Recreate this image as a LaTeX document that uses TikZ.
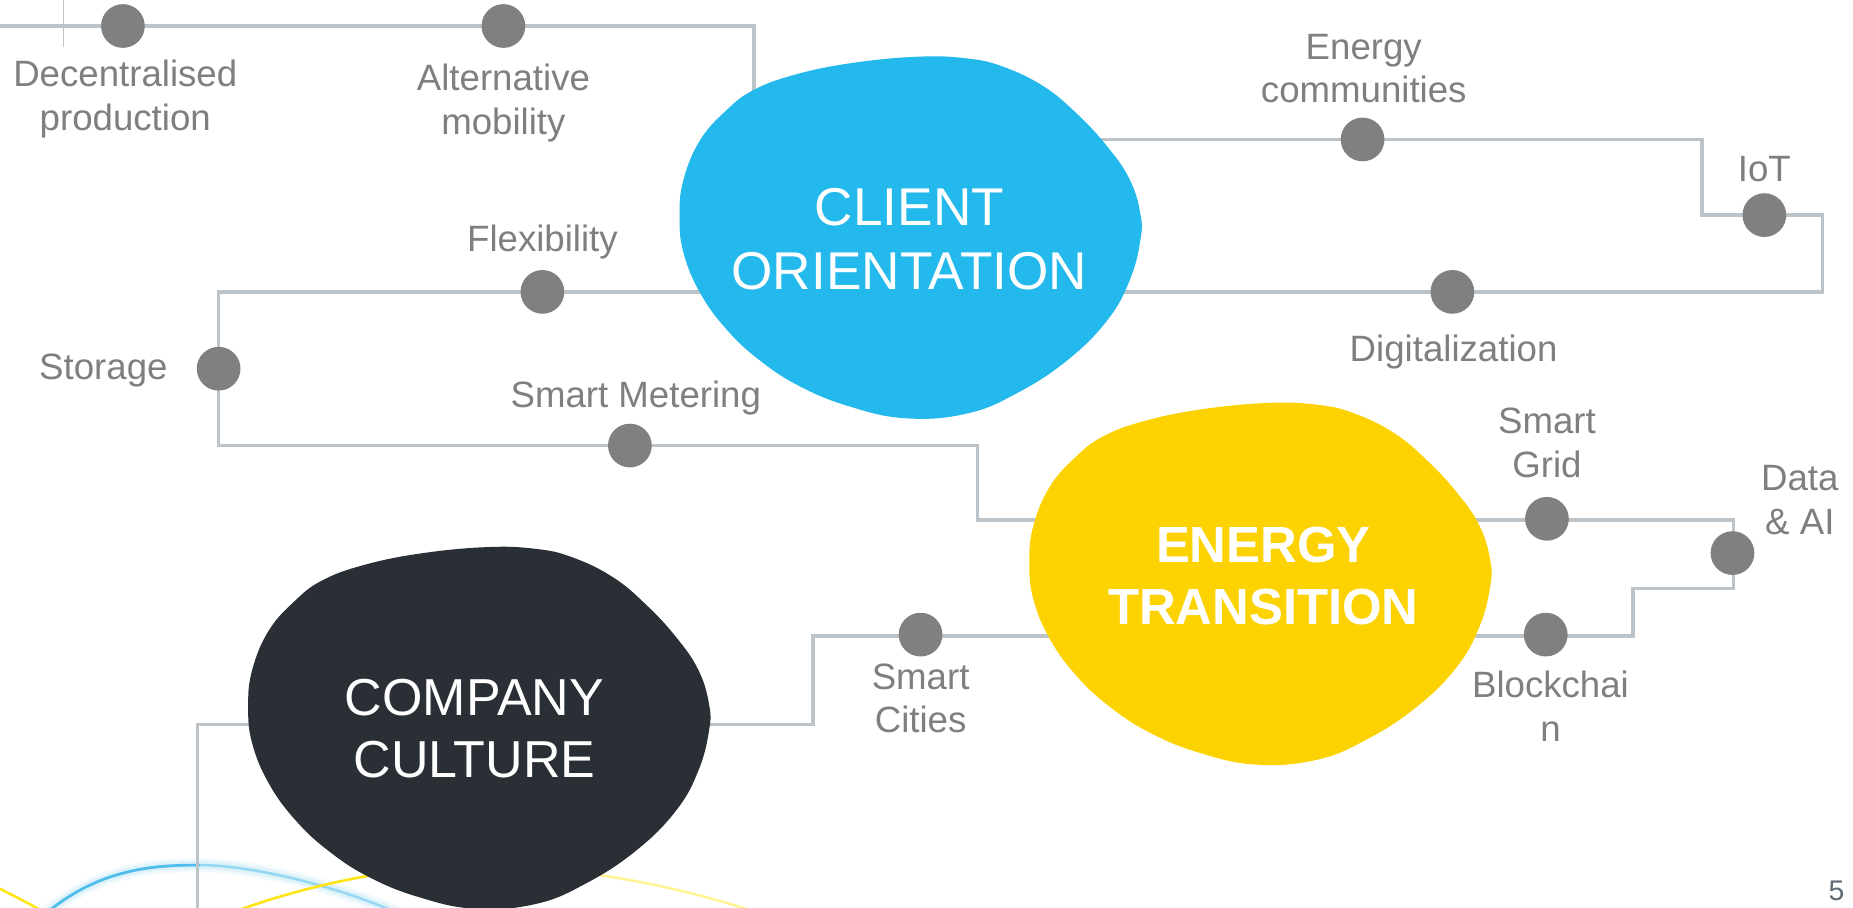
\documentclass[tikz,border=0pt]{standalone}
\usepackage{fontspec}
\setmainfont{Liberation Sans}
\definecolor{blobblue}{HTML}{23B9EC}
\definecolor{blobyellow}{HTML}{FCD200}
\definecolor{blobdark}{HTML}{292F35}
\definecolor{connC}{HTML}{BCC4CA}
\definecolor{dotC}{HTML}{808080}
\definecolor{labelC}{HTML}{7F7F7F}
\definecolor{pageC}{HTML}{5F6A72}
\definecolor{waveblue}{HTML}{4FBDEB}
\definecolor{waveyellow}{HTML}{FFE516}
\begin{document}
\begin{tikzpicture}[x=1pt,y=-1pt,
  conn/.style={draw=connC,line width=3pt},
  dotnode/.style={circle,fill=dotC,minimum size=37pt,inner sep=0pt},
  lbl/.style={text=labelC,align=center,inner sep=0pt,font=\fontsize{31}{37}\selectfont},
  blobtext/.style={text=white,align=center,inner sep=0pt,font=\fontsize{45}{54}\selectfont},
  blobshape/.pic={\path[pic actions] plot[smooth cycle,tension=0.7] coordinates {
    (201,0) (144,5.6) (96.5,15.5) (62.6,28.2) (40,45) (17.5,70.5) (3.4,104) (0,135)
    (3.4,166) (17.5,200) (40,231) (68,257) (102,279) (144,296) (192,306) (243,302)
    (285,285) (328,257) (362,223) (381,189) (390,155) (390,133) (381,104) (362,76)
    (336,48) (308,25) (274,8.5) (243,1.4)};}
]
\useasboundingbox (0,0) rectangle (1568,768);
\fill[white] (0,0) rectangle (1568,768);

% decorative waves
\coordinate (w0) at (40,772);
\coordinate (w1) at (169,732);
\coordinate (w2) at (335,772);
\draw[waveblue,line width=12pt,opacity=0.07,line cap=round] (w0) .. controls (85,735) and (130,732) .. (w1) .. controls (210,732) and (280,748) .. (w2);
\draw[waveblue,line width=7pt,opacity=0.12,line cap=round] (w0) .. controls (85,735) and (130,732) .. (w1) .. controls (210,732) and (280,748) .. (w2);
\draw[waveblue,line width=2.2pt,opacity=0.5] (w0) .. controls (85,735) and (130,732) .. (w1) .. controls (210,732) and (280,748) .. (w2);
\draw[waveblue,line width=2.2pt] (w0) .. controls (85,735) and (130,732) .. (w1);
\coordinate (y0) at (0,752);
\coordinate (y1) at (37,772);
\draw[waveyellow,line width=2.2pt] (y0) .. controls (15,760) and (28,766) .. (y1);
\coordinate (y2) at (197,772);
\coordinate (y3) at (400,732);
\coordinate (y4) at (640,772);
\draw[waveyellow,line width=2.2pt] (y2) .. controls (250,752) and (330,733) .. (y3);
\draw[waveyellow,line width=2.2pt,opacity=0.45] (y3) .. controls (470,732) and (560,745) .. (y4);

% thin mark top-left
\coordinate (m0) at (54,0);
\coordinate (m1) at (54,40);
\draw[connC,line width=0.8pt] (m0) -- (m1);

% connector corners
\coordinate (a0) at (0,22);
\coordinate (a1) at (638,22);
\coordinate (a2) at (638,110);
\coordinate (b0) at (900,118);
\coordinate (b1) at (1440,118);
\coordinate (b2) at (1440,182);
\coordinate (b3) at (1542,182);
\coordinate (b4) at (1542,247);
\coordinate (b5) at (900,247);
\coordinate (c0) at (700,247);
\coordinate (c1) at (185,247);
\coordinate (c2) at (185,377);
\coordinate (c3) at (827,377);
\coordinate (c4) at (827,440);
\coordinate (c5) at (960,440);
\coordinate (d0) at (1200,440);
\coordinate (d1) at (1467,440);
\coordinate (d2) at (1467,498);
\coordinate (d3) at (1382,498);
\coordinate (d4) at (1382,538);
\coordinate (d5) at (1200,538);
\coordinate (e0) at (1000,538);
\coordinate (e1) at (688,538);
\coordinate (e2) at (688,613);
\coordinate (e3) at (500,613);
\coordinate (f0) at (300,613);
\coordinate (f1) at (167,613);
\coordinate (f2) at (167,772);

\draw[conn] (a0) -- (a1) -- (a2);
\draw[conn] (b0) -- (b1) -- (b2) -- (b3) -- (b4) -- (b5);
\draw[conn] (c0) -- (c1) -- (c2) -- (c3) -- (c4) -- (c5);
\draw[conn] (d0) -- (d1) -- (d2) -- (d3) -- (d4) -- (d5);
\draw[conn] (e0) -- (e1) -- (e2) -- (e3);
\draw[conn] (f0) -- (f1) -- (f2);

% dots
\node[dotnode] (ddec) at (104,22) {};
\node[dotnode] (dalt) at (426,22) {};
\node[dotnode] (decom) at (1153,118) {};
\node[dotnode] (diot) at (1493,182) {};
\node[dotnode] (ddig) at (1229,247) {};
\node[dotnode] (dflex) at (459,247) {};
\node[dotnode] (dstor) at (185,312) {};
\node[dotnode] (dsmet) at (533,377) {};
\node[dotnode] (dgrid) at (1309,439) {};
\node[dotnode] (ddata) at (1466,468) {};
\node[dotnode] (dblock) at (1308,537) {};
\node[dotnode] (dcity) at (779,537) {};

% blobs
\pic[fill=blobblue] at (575,48) {blobshape};
\pic[fill=blobyellow] at (871,341) {blobshape};
\pic[fill=blobdark] at (210,463) {blobshape};

\node[blobtext] (client) at (769.5,202.5) {CLIENT\\ORIENTATION};
\node[blobtext,font=\fontsize{43}{53}\bfseries\selectfont] (energy) at (1069,487.5) {ENERGY\\TRANSITION};
\node[blobtext,font=\fontsize{44}{53}\selectfont] (culture) at (401.5,616.5) {COMPANY\\CULTURE};

% labels
\node[lbl] (ldec) at (106,84) {Decentralised\\production};
\node[lbl] (lalt) at (426,87) {Alternative\\mobility};
\node[lbl] (lecom) at (1154,58) {Energy\\communities};
\node[lbl] (liot) at (1493,143) {IoT};
\node[lbl] (lflex) at (459,205) {Flexibility};
\node[lbl] (lstor) at (87.5,313.5) {Storage};
\node[lbl] (ldig) at (1230,298) {Digitalization};
\node[lbl] (lsmet) at (538,337) {Smart Metering};
\node[lbl] (lgrid) at (1309,374.5) {Smart\\Grid};
\node[lbl] (ldata) at (1523,423) {Data\\\& AI};
\node[lbl] (lblock) at (1312,597.5) {Blockchai\\n};
\node[lbl] (lcity) at (779,591) {Smart\\Cities};
\node[text=pageC,inner sep=0pt,font=\fontsize{24}{28}\selectfont] (page) at (1554,753.5) {5};
\end{tikzpicture}
\end{document}
